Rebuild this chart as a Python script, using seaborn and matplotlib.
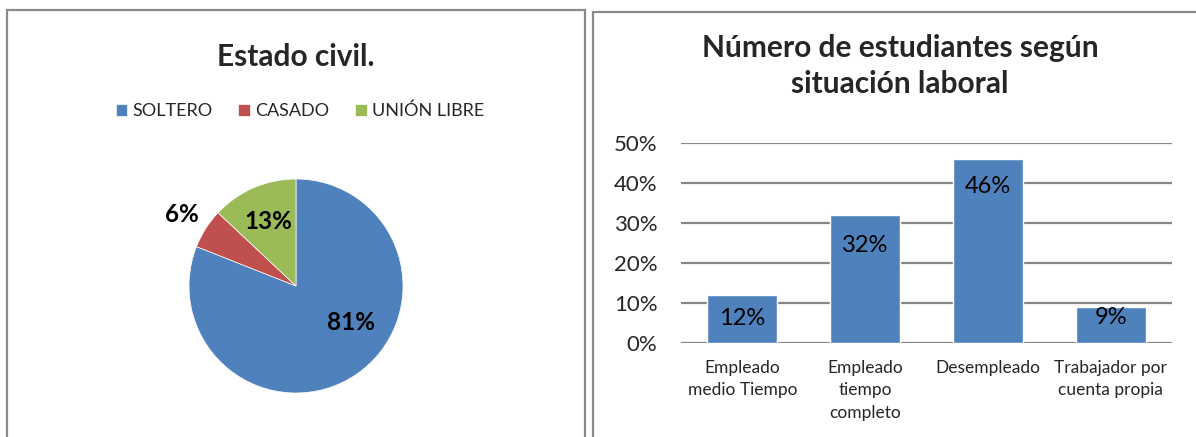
import matplotlib
matplotlib.use("Agg")
import matplotlib.pyplot as plt
from matplotlib.patches import Rectangle
from matplotlib.ticker import PercentFormatter
import seaborn as sns
import pandas as pd

# ---- data ----
civil_labels = ["SOLTERO", "CASADO", "UNIÓN LIBRE"]
civil_values = [81, 6, 13]

work_categories = ["Empleado\nmedio Tiempo", "Empleado\ntiempo\ncompleto", "Desempleado", "Trabajador por\ncuenta propia"]
work_values = [0.12, 0.32, 0.46, 0.09]
y_ticks = [0.0, 0.1, 0.2, 0.3, 0.4, 0.5]

# ---- style ----
sns.set_theme(style="white")
plt.rcParams['font.family'] = ['Lato', 'DejaVu Sans']
blue, red, green = "#4F81BD", "#C0504D", "#9BBB59"
border = "#8A8A8A"

W, H = 1196, 437
fig = plt.figure(figsize=(W / 100, H / 100), dpi=100)

def fx(px):
    return px / W

def fy(py):
    return 1 - py / H

# panel borders
fig.add_artist(Rectangle((fx(7), -0.2), fx(585 - 7), 1.2 - 10 / H, transform=fig.transFigure,
                         fill=False, edgecolor=border, lw=1.6))
fig.add_artist(Rectangle((fx(593), -0.2), fx(700), 1.2 - 12 / H, transform=fig.transFigure,
                         fill=False, edgecolor=border, lw=1.6))

# ---- pie ----
cx, cy, r = 296, 286, 107
ax1 = fig.add_axes([fx(cx - r), fy(cy + r), fx(2 * r), 2 * r / H])
wedges, _ = ax1.pie(civil_values, colors=[blue, red, green], startangle=90, counterclock=False,
                    radius=1, wedgeprops=dict(linewidth=0.5, edgecolor="white"))
ax1.set_xlim(-1, 1)
ax1.set_ylim(-1, 1)
ax1.set_aspect("auto")
pie_label_pos = [(0.51, -0.34), (-1.07, 0.67), (-0.26, 0.60)]
for v, (x, y) in zip(civil_values, pie_label_pos):
    ax1.text(x, y, f"{v}%", ha="center", va="center", fontsize=17.5, fontweight="bold", color="black")

fig.text(fx(296), fy(57), "Estado civil.", ha="center", va="center", fontsize=21.5, fontweight="bold")
fig.legend(wedges, civil_labels, loc="center", bbox_to_anchor=(fx(300), fy(111)), ncol=3,
           frameon=False, fontsize=13, handlelength=0.65, handleheight=0.65, handletextpad=0.3,
           columnspacing=1.4, borderaxespad=0)

# ---- bars ----
ax2 = fig.add_axes([fx(681), fy(343.3), fx(1172 - 681), 200 / H])
df = pd.DataFrame({"cat": work_categories, "val": work_values})
sns.barplot(data=df, x="cat", y="val", color=blue, saturation=1, width=0.57, ax=ax2, zorder=3)
ax2.set_xlim(-0.5, 3.5)
ax2.set_ylim(0, 0.5)
ax2.set_yticks(y_ticks)
ax2.yaxis.set_major_formatter(PercentFormatter(1.0, decimals=0))
ax2.yaxis.grid(True, color="#868686", lw=1.6, zorder=0)
ax2.set_axisbelow(True)
for s in ax2.spines.values():
    s.set_visible(False)
ax2.set_xlabel("")
ax2.set_ylabel("")
ax2.tick_params(axis="y", length=0, pad=17, labelsize=16)
ax2.tick_params(axis="x", length=0, pad=12, labelsize=12.5)
for lbl in ax2.get_xticklabels():
    lbl.set_linespacing(1.5)
label_offsets = [0.058, 0.075, 0.068, 0.025]
for i, (v, off) in enumerate(zip(work_values, label_offsets)):
    ax2.text(i, v - off, f"{round(v * 100)}%", ha="center", va="center", fontsize=17, color="black", zorder=4)

fig.text(fx(900), fy(66), "Número de estudiantes según\nsituación laboral", ha="center", va="center",
         fontsize=21.5, fontweight="bold", linespacing=1.35)

fig.savefig("out.png", dpi=100)
